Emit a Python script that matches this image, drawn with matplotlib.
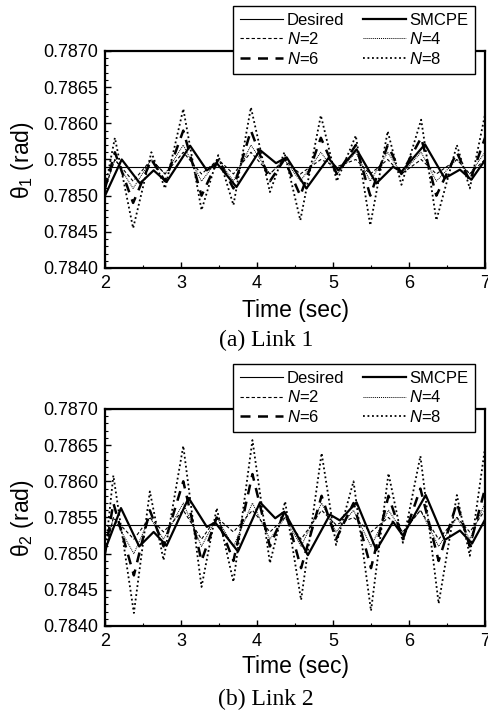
import matplotlib
matplotlib.use('Agg')
import matplotlib.pyplot as plt
from matplotlib.ticker import MultipleLocator

plt.rcParams['font.family'] = ['Liberation Sans', 'DejaVu Sans']
plt.rcParams['mathtext.fontset'] = 'custom'
plt.rcParams['mathtext.rm'] = 'Liberation Sans'
plt.rcParams['mathtext.it'] = 'Liberation Sans:italic'

# ===== data =====
desired_t = [2.0, 7.0]
desired_v = [0.7854, 0.7854]

# (a) Link 1
t1_n = [2.00, 2.13, 2.37, 2.61, 2.79, 3.03, 3.27, 3.49, 3.69, 3.92, 4.17, 4.36,
        4.57, 4.84, 5.05, 5.30, 5.49, 5.72, 5.90, 6.16, 6.36, 6.63, 6.80, 7.00]
link1_n2 = [0.7851, 0.7855, 0.7852, 0.7855, 0.7853, 0.7856, 0.7853, 0.7855, 0.7853, 0.7856, 0.7853, 0.7855,
            0.7853, 0.7855, 0.7854, 0.7855, 0.7853, 0.7855, 0.7853, 0.7855, 0.7853, 0.7855, 0.7853, 0.7855]
link1_n4 = [0.7851, 0.7855, 0.7851, 0.7855, 0.7853, 0.7857, 0.7852, 0.7855, 0.7852, 0.7857, 0.7853, 0.7855,
            0.7852, 0.7856, 0.7853, 0.7856, 0.7852, 0.7856, 0.7853, 0.7856, 0.7852, 0.7855, 0.7853, 0.7856]
link1_n6 = [0.7851, 0.7856, 0.7849, 0.7855, 0.7852, 0.7859, 0.7850, 0.7855, 0.7851, 0.7859, 0.7852, 0.7855,
            0.7850, 0.7858, 0.7853, 0.7857, 0.7850, 0.7857, 0.7853, 0.7858, 0.7850, 0.7856, 0.7852, 0.7858]
link1_n8 = [0.7851, 0.7858, 0.78455, 0.7856, 0.7851, 0.7862, 0.7848, 0.78556, 0.78487, 0.78622, 0.78505, 0.7856,
            0.78466, 0.78611, 0.7852, 0.78583, 0.78459, 0.78589, 0.78515, 0.78605, 0.78466, 0.7857, 0.7851, 0.78612]
t1_smc = [2.00, 2.22, 2.46, 2.64, 2.81, 3.12, 3.34, 3.47, 3.73, 4.04, 4.25, 4.39,
          4.65, 4.94, 5.07, 5.31, 5.57, 5.79, 5.90, 6.21, 6.47, 6.67, 6.82, 7.00]
link1_smc = [0.7850, 0.7855, 0.78517, 0.78535, 0.78519, 0.78569, 0.78535, 0.78545, 0.78512, 0.78563, 0.78545, 0.78553,
             0.78510, 0.78552, 0.78535, 0.78564, 0.78517, 0.78540, 0.78533, 0.78571, 0.78524, 0.78536, 0.78522, 0.78549]

# (b) Link 2
t2_n = [2.00, 2.11, 2.38, 2.59, 2.77, 3.03, 3.27, 3.47, 3.69, 3.94, 4.17, 4.37,
        4.58, 4.85, 5.04, 5.27, 5.50, 5.73, 5.92, 6.15, 6.39, 6.63, 6.80, 7.00]
link2_n2 = [0.7850, 0.7855, 0.7852, 0.7855, 0.7853, 0.7856, 0.7852, 0.7855, 0.7853, 0.7856, 0.7853, 0.7855,
            0.7852, 0.7856, 0.7854, 0.7855, 0.7853, 0.7855, 0.7853, 0.7856, 0.7852, 0.7855, 0.7853, 0.7856]
link2_n4 = [0.7850, 0.7855, 0.7850, 0.7855, 0.7852, 0.7857, 0.7851, 0.7855, 0.7851, 0.7857, 0.7852, 0.7855,
            0.7851, 0.7857, 0.7853, 0.7856, 0.7851, 0.7856, 0.7853, 0.7856, 0.7851, 0.7855, 0.7852, 0.7857]
link2_n6 = [0.7850, 0.7857, 0.7847, 0.7856, 0.7851, 0.7860, 0.7849, 0.7855, 0.7849, 0.7861, 0.7851, 0.7856,
            0.7848, 0.7858, 0.7852, 0.7857, 0.7848, 0.7858, 0.7852, 0.7859, 0.7849, 0.7857, 0.7851, 0.7859]
link2_n8 = [0.7850, 0.78608, 0.78418, 0.78586, 0.78491, 0.78649, 0.78454, 0.78563, 0.78461, 0.78657, 0.78487, 0.78572,
            0.78436, 0.78639, 0.78512, 0.78600, 0.78421, 0.78611, 0.78515, 0.78635, 0.78431, 0.78581, 0.78497, 0.78646]
t2_smc = [2.00, 2.21, 2.45, 2.64, 2.81, 3.10, 3.34, 3.45, 3.75, 4.04, 4.24, 4.36,
          4.67, 4.96, 5.09, 5.31, 5.57, 5.79, 5.92, 6.22, 6.47, 6.67, 6.83, 7.00]
link2_smc = [0.78505, 0.78563, 0.78510, 0.78530, 0.78511, 0.78577, 0.78537, 0.78543, 0.78503, 0.78571, 0.78549, 0.78558,
             0.78498, 0.78554, 0.78546, 0.78571, 0.78505, 0.78544, 0.78525, 0.78581, 0.78519, 0.78532, 0.78514, 0.78547]

y_ticks = [0.7840, 0.7845, 0.7850, 0.7855, 0.7860, 0.7865, 0.7870]
x_ticks = [2, 3, 4, 5, 6, 7]

W, H = 488, 715
fig = plt.figure(figsize=(W / 100, H / 100), dpi=100)


def draw_panel(ax_rect, t_n, n2, n4, n6, n8, t_smc, smc, ylab, caption, leg_top, label_y, cap_y, ylab_y):
    ax = fig.add_axes(ax_rect)
    ax.plot(desired_t, desired_v, color='k', lw=0.8, label='Desired')
    ax.plot(t_n, n2, color='k', lw=0.8, ls=(0, (3, 2)), label='$N$=2')
    ax.plot(t_n, n6, color='k', lw=1.8, ls=(0, (4, 3)), label='$N$=6')
    ax.plot(t_smc, smc, color='k', lw=1.6, label='SMCPE')
    ax.plot(t_n, n4, color='k', lw=0.7, ls=(0, (1, 1)), label='$N$=4')
    ax.plot(t_n, n8, color='k', lw=1.3, ls=(0, (1, 1.5)), label='$N$=8')

    ax.set_xlim(2, 7)
    ax.set_ylim(0.7840, 0.7870)
    ax.set_xticks(x_ticks)
    ax.set_yticks(y_ticks)
    ax.set_yticklabels([f'{v:.4f}' for v in y_ticks])
    ax.xaxis.set_minor_locator(MultipleLocator(0.5))
    ax.yaxis.set_minor_locator(MultipleLocator(0.0001))
    ax.tick_params(which='both', direction='in', labelsize=13, top=False, right=False)
    ax.tick_params(which='major', length=4, width=1, pad=5)
    ax.tick_params(which='minor', length=2, width=0.8)
    for s in ax.spines.values():
        s.set_linewidth(1.6)

    leg = ax.legend(ncol=2, loc='upper right', bbox_to_anchor=(475 / W, 1 - leg_top / H),
                    bbox_transform=fig.transFigure, fontsize=12, frameon=True, fancybox=False,
                    edgecolor='k', framealpha=1, handlelength=2.6, handletextpad=0.2,
                    columnspacing=1.1, labelspacing=0.22, borderpad=0.4, borderaxespad=0)
    leg.get_frame().set_linewidth(1.0)
    leg.set_zorder(5)

    fig.text(296 / W, 1 - label_y / H, 'Time (sec)', fontsize=16.5, ha='center', va='center')
    fig.text(22 / W, 1 - ylab_y / H, ylab, fontsize=16.5, ha='center', va='center', rotation=90)
    fig.text(266 / W, 1 - cap_y / H, caption, fontsize=17, ha='center', va='center',
             family='Liberation Serif')
    return ax


draw_panel([105 / W, 1 - 268 / H, 380 / W, 217 / H], t1_n, link1_n2, link1_n4, link1_n6, link1_n8,
           t1_smc, link1_smc, 'θ$_1$ (rad)', '(a) Link 1', 6, 310, 340, 160)
draw_panel([105 / W, 1 - 626 / H, 380 / W, 217 / H], t2_n, link2_n2, link2_n4, link2_n6, link2_n8,
           t2_smc, link2_smc, 'θ$_2$ (rad)', '(b) Link 2', 364, 667, 699, 518)

fig.savefig('out.png', dpi=100)
